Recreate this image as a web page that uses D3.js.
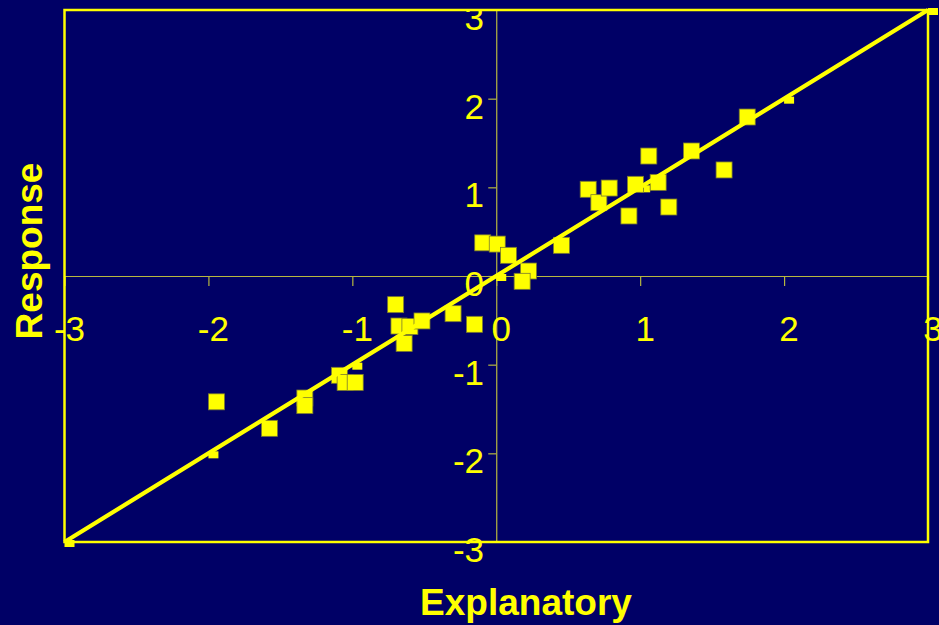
<!DOCTYPE html>
<html>
<head>
<meta charset="utf-8">
<script src="https://cdn.jsdelivr.net/npm/d3@7"></script>
<style>
html,body{margin:0;padding:0;background:#000066;}
svg{display:block;}
</style>
</head>
<body>
<svg id="chart" width="939" height="625"></svg>
<script>
// ---- data ----
const explanatory = [-1.944,-1.576,-1.330,-1.330,-1.090,-1.050,-0.980,-0.699,-0.676,-0.600,-0.516,-0.640,-0.300,-0.151,-0.094,0.007,0.085,0.224,0.180,0.453,0.639,0.713,0.785,0.922,0.967,1.060,1.125,1.199,1.356,1.583,1.744];
const response    = [-1.419,-1.718,-1.376,-1.462,-1.120,-1.200,-1.200,-0.323,-0.564,-0.570,-0.507,-0.760,-0.425,-0.545,0.374,0.360,0.233,0.056,-0.060,0.346,0.978,0.827,0.992,0.677,1.034,1.353,1.056,0.778,1.410,1.196,1.793];
const fitX = [-3,-2,-1,0,1,2,3];
const fitY = [-3,-2,-1,0,1,2,3];
const xTicks = [-3,-2,-1,0,1,2,3];
const yTicks = [-3,-2,-1,0,1,2,3];
const xTitle = "Explanatory";
const yTitle = "Response";

// ---- layout ----
const YELLOW = "#FFFF00";
const AXIS = "#b8b840";
const mLeft = 64.5, mRight = 928, mTop = 10, mBottom = 542;
const svg = d3.select("#chart");
svg.append("rect").attr("width",939).attr("height",625).attr("fill","#000066");

svg.append("defs").append("clipPath").attr("id","ylabClip")
  .append("rect").attr("x",0).attr("y",mTop).attr("width",939).attr("height",625-mTop);

const x = d3.scaleLinear().domain([-3,3]).range([mLeft,mRight]);
const y = d3.scaleLinear().domain([-3,3]).range([mBottom,mTop]);

// axes crossing at zero
const xAxis = d3.axisBottom(x).tickValues(xTicks.filter(d=>d>-3&&d<3)).tickSize(10).tickFormat("");
const gx = svg.append("g").attr("transform",`translate(0,${y(0)})`).call(xAxis);
gx.select(".domain").attr("stroke",AXIS).attr("stroke-width",1.2);
gx.selectAll(".tick line").attr("stroke",AXIS).attr("stroke-width",1.2);

const yAxis = d3.axisLeft(y).tickValues(yTicks.filter(d=>d>-3&&d<3)).tickSize(8).tickFormat("");
const gy = svg.append("g").attr("transform",`translate(${x(0)},0)`).call(yAxis);
gy.select(".domain").attr("stroke",AXIS).attr("stroke-width",1.2);
gy.selectAll(".tick line").attr("stroke",AXIS).attr("stroke-width",1.2);

// tick labels
svg.append("g").selectAll("text").data(xTicks).join("text")
  .attr("x",d=>x(d)+5).attr("y",341)
  .attr("text-anchor","middle")
  .attr("font-family","Liberation Sans, Arial, sans-serif")
  .attr("font-size",35).attr("fill",YELLOW)
  .text(d=>d);
svg.append("g").attr("clip-path","url(#ylabClip)")
  .selectAll("text").data(yTicks).join("text")
  .attr("x",484).attr("y",d=>y(d)+20)
  .attr("text-anchor","end")
  .attr("font-family","Liberation Sans, Arial, sans-serif")
  .attr("font-size",35).attr("fill",YELLOW)
  .text(d=>d);

// fit markers (small, beneath line)
svg.append("g").selectAll("rect").data(fitX.map((d,i)=>[d,fitY[i]])).join("rect")
  .attr("x",d=>x(d[0])).attr("y",d=>y(d[1])-2)
  .attr("width",10).attr("height",7)
  .attr("fill",YELLOW);

// data points
const pts = explanatory.map((d,i)=>[d,response[i]]);
svg.append("g").selectAll("rect").data(pts).join("rect")
  .attr("x",d=>x(d[0])-8).attr("y",d=>y(d[1])-8)
  .attr("width",16).attr("height",16)
  .attr("fill",YELLOW).attr("stroke","#7a7a30").attr("stroke-width",0.8);

// fit line
const line = d3.line().x(d=>x(d[0])).y(d=>y(d[1]));
svg.append("path")
  .datum([[fitX[0],fitY[0]],[fitX[fitX.length-1],fitY[fitY.length-1]]])
  .attr("d",line).attr("stroke",YELLOW).attr("stroke-width",4.2).attr("fill","none");

// plot border
svg.append("rect").attr("x",mLeft).attr("y",mTop)
  .attr("width",mRight-mLeft).attr("height",mBottom-mTop)
  .attr("fill","none").attr("stroke",YELLOW).attr("stroke-width",2.5);

// titles
svg.append("text").attr("x",526).attr("y",615)
  .attr("text-anchor","middle")
  .attr("font-family","Liberation Sans, Arial, sans-serif")
  .attr("font-weight","bold").attr("font-size",37).attr("fill",YELLOW)
  .text(xTitle);
svg.append("text")
  .attr("transform","translate(42,251) rotate(-90)")
  .attr("text-anchor","middle")
  .attr("font-family","Liberation Sans, Arial, sans-serif")
  .attr("font-weight","bold").attr("font-size",37).attr("fill",YELLOW)
  .text(yTitle);
</script>
</body>
</html>
